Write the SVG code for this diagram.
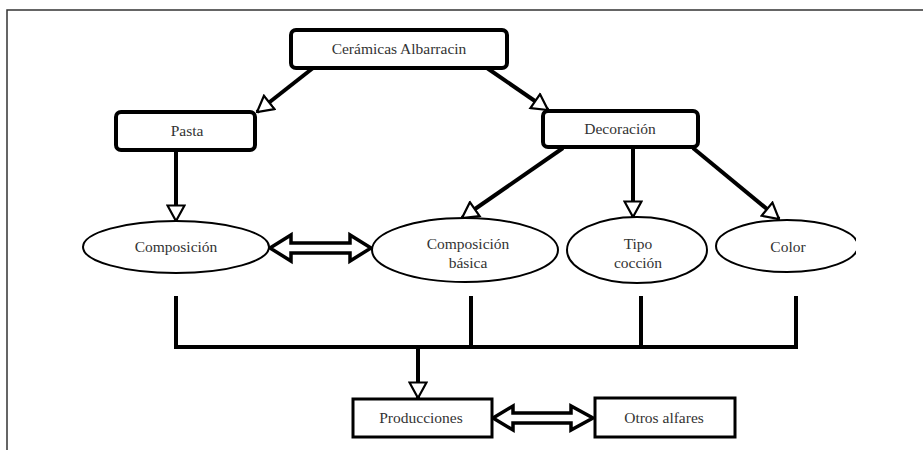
<svg xmlns="http://www.w3.org/2000/svg" width="923" height="450" viewBox="0 0 923 450">
<style>
.box{fill:#fff;stroke:#000;stroke-width:4}
.sbox{fill:#fff;stroke:#000;stroke-width:3}
.ell{fill:#fff;stroke:#000;stroke-width:2}
.lbl{font-family:"Liberation Serif","DejaVu Serif",serif;font-size:15.5px;fill:#333;text-anchor:middle}
.con{fill:none;stroke:#000;stroke-width:4}
.dbl{fill:#fff;stroke:#000;stroke-width:3.5;stroke-linejoin:miter}
</style>
<defs>
<marker id="ah" viewBox="0 0 18 20" refX="17" refY="10" markerWidth="18" markerHeight="20" markerUnits="userSpaceOnUse" orient="auto">
<path d="M1.5,1.5 L17,10 L1.5,18.5 Z" fill="#fff" stroke="#000" stroke-width="2.2"/>
</marker>
<clipPath id="clipColor"><rect x="700" y="200" width="156" height="100"/></clipPath>
</defs>
<rect x="0" y="0" width="923" height="450" fill="#fff"/>
<path d="M7,450 V10 H923" fill="none" stroke="#333" stroke-width="1.5"/>

<g id="connectors">
<path class="con" d="M313,68 L257,112" marker-end="url(#ah)"/>
<path class="con" d="M487,68 L548,110" marker-end="url(#ah)"/>
<path class="con" d="M176,151 V221" marker-end="url(#ah)"/>
<path class="con" d="M563,148 L462,218" marker-end="url(#ah)"/>
<path class="con" d="M633,147 V217" marker-end="url(#ah)"/>
<path class="con" d="M693,148 L779,219" marker-end="url(#ah)"/>
<path class="con" d="M176,296 V347 H796 V296 M471,296 V347 M641,296 V347"/>
<path class="con" d="M418,347 V398" marker-end="url(#ah)"/>
<path class="dbl" d="M270,248 L291,235 L291,243 L350,243 L350,235 L371,248 L350,261 L350,253 L291,253 L291,261 Z"/>
<path class="dbl" d="M493,418 L513,406 L513,413 L571,413 L571,406 L593,418 L571,430 L571,423 L513,423 L513,430 Z"/>
</g>

<g id="ceramicas">
<rect class="box" x="291" y="30" width="216" height="38" rx="5"/>
<text class="lbl" x="399" y="54">Cerámicas Albarracin</text>
</g>
<g id="pasta">
<rect class="box" x="116" y="112" width="139" height="38" rx="5"/>
<text class="lbl" x="187" y="136">Pasta</text>
</g>
<g id="decoracion">
<rect class="box" x="543" y="111" width="155" height="36" rx="5"/>
<text class="lbl" x="620" y="134">Decoración</text>
</g>
<g id="composicion">
<ellipse class="ell" cx="176" cy="247" rx="93" ry="26"/>
<text class="lbl" x="176" y="252">Composición</text>
</g>
<g id="composicion-basica">
<ellipse class="ell" cx="465" cy="250" rx="93" ry="32"/>
<text class="lbl" x="468" y="249">Composición</text>
<text class="lbl" x="468" y="268">básica</text>
</g>
<g id="tipo-coccion">
<ellipse class="ell" cx="637" cy="250" rx="70" ry="33"/>
<text class="lbl" x="638" y="249">Tipo</text>
<text class="lbl" x="638" y="268">cocción</text>
</g>
<g id="color">
<ellipse class="ell" cx="787" cy="246" rx="71" ry="26" clip-path="url(#clipColor)"/>
<text class="lbl" x="788" y="252">Color</text>
</g>
<g id="producciones">
<rect class="sbox" x="353" y="399" width="139" height="38"/>
<text class="lbl" x="421" y="423">Producciones</text>
</g>
<g id="otros-alfares">
<rect class="sbox" x="595" y="398" width="140" height="39"/>
<text class="lbl" x="664" y="423">Otros alfares</text>
</g>
</svg>
